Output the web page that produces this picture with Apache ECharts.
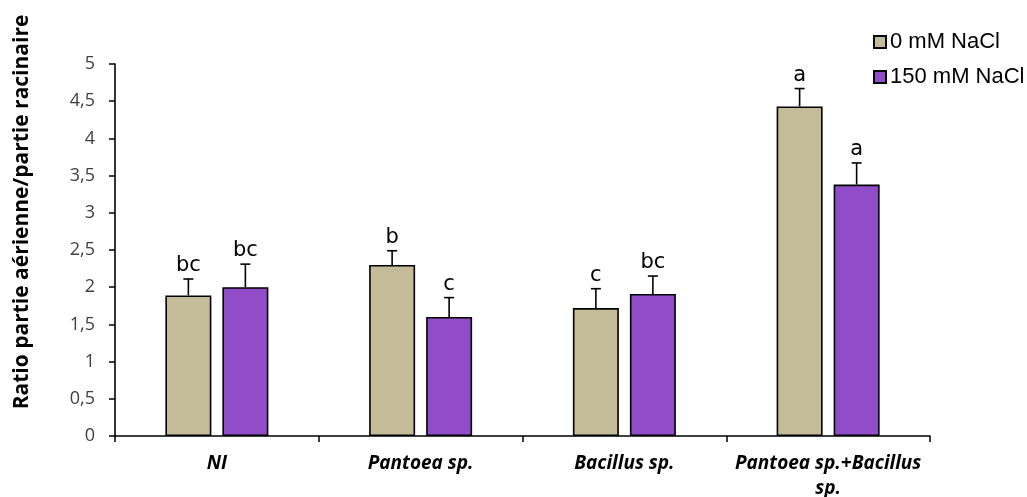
<!DOCTYPE html>
<html>
<head>
<meta charset="utf-8">
<script src="https://cdn.jsdelivr.net/npm/echarts@6/dist/echarts.min.js"></script>
<style>
  html, body { margin: 0; padding: 0; background: #fff; }
  #chart { width: 1027px; height: 497px; }
</style>
</head>
<body>
<div id="chart"></div>
<script>
// Treatments on the x axis
const categories = ['NI', 'Pantoea sp.', 'Bacillus sp.', 'Pantoea sp.+Bacillus\nsp.'];
const seriesNames = ['0 mM NaCl', '150 mM NaCl'];

// Shoot/root ratio means and standard errors
const values0 = [1.89, 2.30, 1.72, 4.43];
const errors0 = [0.22, 0.19, 0.26, 0.24];
const letters0 = ['bc', 'b', 'c', 'a'];

const values150 = [2.00, 1.60, 1.91, 3.38];
const errors150 = [0.31, 0.26, 0.24, 0.29];
const letters150 = ['bc', 'c', 'bc', 'a'];

// Y axis ticks
const yMin = 0, yMax = 5, yStep = 0.5;

const colors = ['#C4BC98', '#914DC8'];
const BAR_W = 46;
const GAP_PX = 11;
const offsets = [-(BAR_W + GAP_PX) / 2, (BAR_W + GAP_PX) / 2];

function errorSeries(values, errors, letters, idx) {
  return {
    type: 'custom',
    name: seriesNames[idx] + ' err',
    z: 5,
    data: values.map((v, i) => [i, v, errors[i]]),
    renderItem: function (params, api) {
      const ci = api.value(0), v = api.value(1), e = api.value(2);
      const base = api.coord([ci, v]);
      const top = api.coord([ci, v + e]);
      const x = base[0] + offsets[idx];
      const stroke = { stroke: '#000', lineWidth: 1.6 };
      return {
        type: 'group',
        children: [
          { type: 'line', shape: { x1: x, y1: base[1], x2: x, y2: top[1] }, style: stroke },
          { type: 'line', shape: { x1: x - 5, y1: top[1], x2: x + 5, y2: top[1] }, style: stroke },
          {
            type: 'text',
            style: {
              text: letters[params.dataIndex],
              x: x, y: top[1] - 3,
              textAlign: 'center', textVerticalAlign: 'bottom',
              font: '21px "DejaVu Sans"', fill: '#000'
            }
          }
        ]
      };
    }
  };
}

const chart = echarts.init(document.getElementById('chart'), null, { renderer: 'canvas' });
chart.setOption({
  animation: false,
  backgroundColor: '#fff',
  grid: { left: 115, right: 97, top: 64, bottom: 61, outerBoundsMode: 'none', containLabel: false },
  legend: {
    data: seriesNames,
    orient: 'vertical',
    left: 868, top: 26,
    itemWidth: 12, itemHeight: 12,
    itemGap: 13,
    icon: 'rect',
    textStyle: { fontFamily: 'Liberation Sans', fontSize: 22, color: '#000', padding: [0, 0, 0, -1] }
  },
  graphic: [{
    type: 'text',
    x: 22, y: 212,
    rotation: Math.PI / 2,
    style: {
      text: 'Ratio partie aérienne/partie racinaire',
      textAlign: 'center', textVerticalAlign: 'middle',
      font: 'bold 21px "Open Sans"', fill: '#000'
    }
  }],
  xAxis: {
    type: 'category',
    data: categories,
    axisLine: { lineStyle: { color: '#000', width: 1.6 } },
    axisTick: { show: true, length: 6, lineStyle: { color: '#000', width: 1.5 } },
    axisLabel: {
      margin: 15, interval: 0,
      fontFamily: 'Open Sans', fontStyle: 'italic', fontWeight: 'bold',
      fontSize: 19, color: '#000', lineHeight: 25
    }
  },
  yAxis: {
    type: 'value',
    min: yMin, max: yMax, interval: yStep,
    splitLine: { show: false },
    axisLine: { show: true, lineStyle: { color: '#000', width: 1.6 } },
    axisTick: { show: true, length: 6, lineStyle: { color: '#000', width: 1.5 } },
    axisLabel: {
      margin: 20,
      fontFamily: 'Open Sans', fontSize: 18, color: '#404040',
      formatter: v => String(v).replace('.', ',')
    }
  },
  series: [
    {
      name: seriesNames[0], type: 'bar', data: values0,
      barWidth: BAR_W, barGap: (GAP_PX / BAR_W * 100) + '%',
      itemStyle: { color: colors[0], borderColor: '#000', borderWidth: 1.6 }
    },
    {
      name: seriesNames[1], type: 'bar', data: values150,
      barWidth: BAR_W, barGap: (GAP_PX / BAR_W * 100) + '%',
      itemStyle: { color: colors[1], borderColor: '#000', borderWidth: 1.6 }
    },
    errorSeries(values0, errors0, letters0, 0),
    errorSeries(values150, errors150, letters150, 1)
  ]
});
</script>
</body>
</html>
